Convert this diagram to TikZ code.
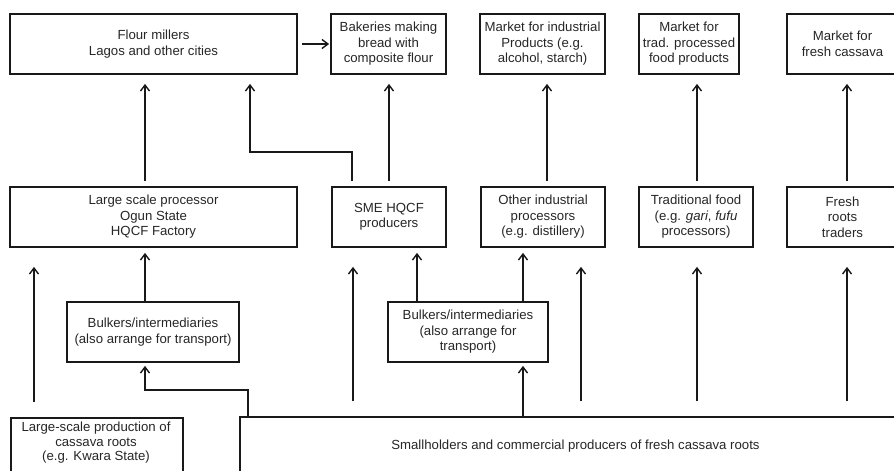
\documentclass[tikz,border=0pt]{standalone}
\usepackage{fontspec}
\setmainfont{Liberation Sans}
\usetikzlibrary{arrows.meta}

\begin{document}
\begin{tikzpicture}[x=1pt, y=-1pt,  % cassava value chain
  box/.style={draw=black!90, line width=1.8pt, align=center, inner sep=2pt, minimum height=60pt,
    text=black!85, font=\fontsize{13.2}{15.5}\selectfont},
  flow/.style={-{Straight Barb[length=6pt,width=9pt]}, draw=black!90, line width=1.4pt},
  up/.style={flow, shorten <=5pt, shorten >=9pt},
  feed/.style={flow, shorten >=5pt},
  free/.style={flow, shorten <=15pt, shorten >=19pt}]
  \useasboundingbox (0,0) rectangle (894,471);
  \clip (0,0) rectangle (894,471);

  % markets
  \node[box, minimum width=287pt] (flour) at (153.5,44) {Flour millers\\Lagos and other cities};
  \node[box, minimum width=115pt] (bakery) at (388.5,44) {Bakeries making\\bread with\\composite flour};
  \node[box, minimum width=125pt] (mkind) at (542.5,44) {Market for industrial\\Products (e.g.\\alcohol, starch)};
  \node[box, minimum width=100pt] (mktrad) at (689,44) {Market for\\trad. processed\\food products};
  \node[box, minimum width=111pt] (mkfresh) at (842.5,44) {Market for\\fresh cassava};

  % processors
  \node[box, minimum width=287pt] (lsproc) at (153.5,217) {Large scale processor\\Ogun State\\HQCF Factory};
  \node[box, minimum width=114pt] (sme) at (389,217) {SME HQCF\\producers};
  \node[box, minimum width=124pt] (othind) at (543,217) {Other industrial\\processors\\(e.g. distillery)};
  \node[box, minimum width=114pt] (tradfood) at (696,217) {Traditional food\\(e.g. \textit{gari}, \textit{fufu}\\processors)};
  \node[box, minimum width=111pt] (fresh) at (842.5,217) {Fresh\\roots\\traders};

  % bulkers
  \node[box, minimum width=172pt] (bulkL) at (153,332) {Bulkers/intermediaries\\(also arrange for transport)};
  \node[box, minimum width=160pt] (bulkR) at (468,332) {Bulkers/intermediaries\\(also arrange for\\transport)};

  % producers
  \node[box, minimum width=172pt, minimum height=64pt, anchor=north west] (lsprod) at (10,417) {};
  \node[align=center, text=black!85, font=\fontsize{13.2}{14.5}\selectfont] (lsprodtxt) at (96,443)
    {Large-scale production of\\cassava roots\\(e.g. Kwara State)};
  \node[box, minimum width=671pt, minimum height=58pt] (small) at (575.5,446)
    {Smallholders and commercial producers of fresh cassava roots};

  % columns
  \coordinate (cLarge) at (145,0);
  \coordinate (cFree) at (34,0);
  \coordinate (cElbow) at (250,0);
  \coordinate (cSmeUp) at (352,0);
  \coordinate (cSmeIn) at (353,0);
  \coordinate (cBake) at (389,0);
  \coordinate (cBulkR) at (417,0);
  \coordinate (cOth) at (523,0);
  \coordinate (cInd) at (547,0);
  \coordinate (cOthFree) at (581,0);
  \coordinate (cTrad) at (697,0);
  \coordinate (cFresh) at (847,0);
  \coordinate (cSmall) at (248,0);

  % to the markets
  \draw[up] (lsproc.north -| cLarge) -- (flour.south -| cLarge);
  \draw[up] (sme.north -| cSmeUp) -- ++(0,-34) -| (flour.south -| cElbow);
  \draw[up] (sme.north -| cBake) -- (bakery.south -| cBake);
  \draw[flow, shorten <=4pt, shorten >=1pt] (flour.east) -- (bakery.west);
  \draw[up] (othind.north -| cInd) -- (mkind.south -| cInd);
  \draw[up] (tradfood.north -| cTrad) -- (mktrad.south -| cTrad);
  \draw[up] (fresh.north -| cFresh) -- (mkfresh.south -| cFresh);

  % to the processors
  \draw[free] (lsprod.north -| cFree) -- (lsproc.south -| cFree);
  \draw[feed] (bulkL.north -| cLarge) -- (lsproc.south -| cLarge);
  \draw[free] (small.north -| cSmeIn) -- (sme.south -| cSmeIn);
  \draw[feed] (bulkR.north -| cBulkR) -- (sme.south -| cBulkR);
  \draw[feed] (bulkR.north -| cOth) -- (othind.south -| cOth);
  \draw[free] (small.north -| cOthFree) -- (othind.south -| cOthFree);
  \draw[free] (small.north -| cTrad) -- (tradfood.south -| cTrad);
  \draw[free] (small.north -| cFresh) -- (fresh.south -| cFresh);

  % to the bulkers
  \draw[flow, shorten >=3pt] (small.north -| cSmall) -- ++(0,-26) -| (bulkL.south -| cLarge);
  \draw[flow, shorten >=3pt] (small.north -| cOth) -- (bulkR.south -| cOth);
\end{tikzpicture}
\end{document}
